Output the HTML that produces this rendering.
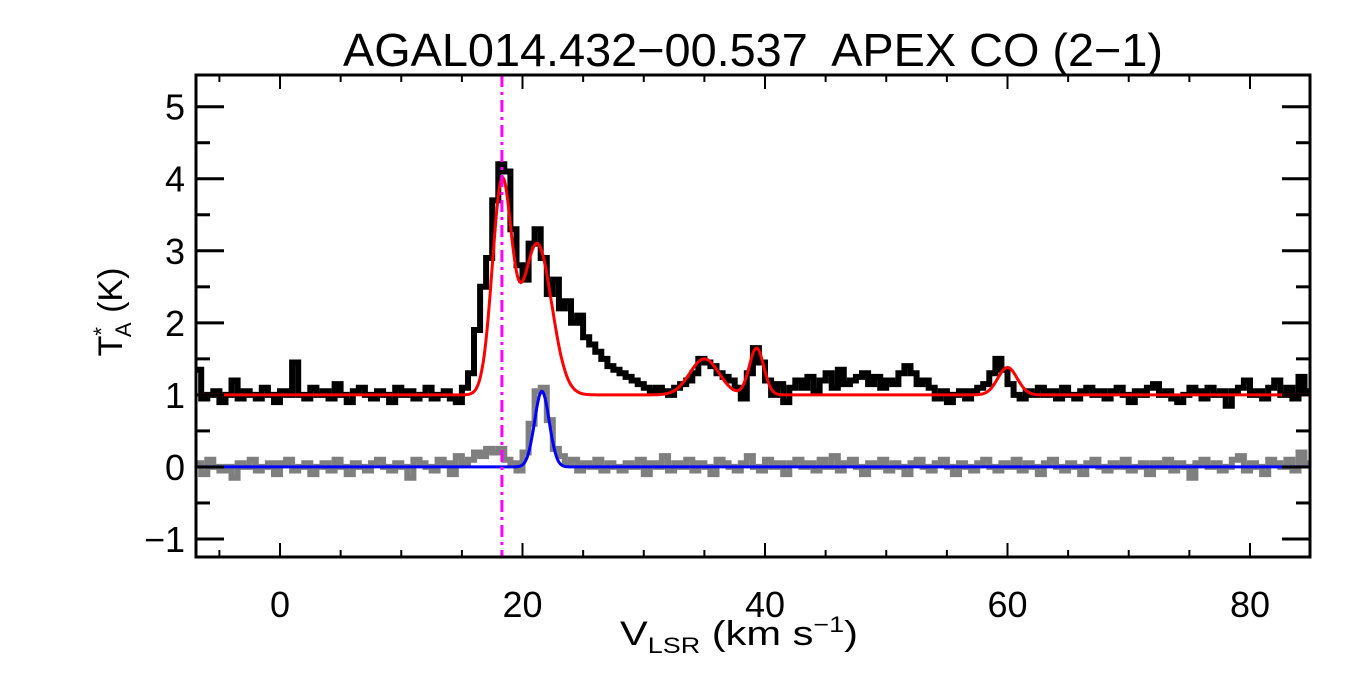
<!DOCTYPE html>
<html><head><meta charset="utf-8"><style>
html,body{margin:0;padding:0;background:#fff;}
svg{display:block;font-family:"Liberation Sans",Arial,sans-serif;}
</style></head><body>
<svg id="chart" width="1350" height="675" viewBox="0 0 1350 675" xmlns="http://www.w3.org/2000/svg">
<defs><clipPath id="plotclip"><rect x="196" y="75" width="1114" height="482"/></clipPath></defs>
<text x="343" y="66" font-size="46" textLength="820" lengthAdjust="spacingAndGlyphs" fill="#000" xml:space="preserve">AGAL014.432−00.537  APEX CO (2−1)</text>
<g id="plot" clip-path="url(#plotclip)"></g>
<g id="axes"></g>
<text x="620" y="645" font-size="34" textLength="238" lengthAdjust="spacingAndGlyphs">V<tspan font-size="22" dy="8">LSR</tspan><tspan dy="-8"> (km s</tspan><tspan font-size="22" dy="-13">−1</tspan><tspan dy="13">)</tspan></text>
<text transform="translate(122,312) rotate(-90)" font-size="34" text-anchor="middle">T<tspan font-size="22" dy="-13">*</tspan><tspan font-size="22" dx="-10" dy="22">A</tspan><tspan dy="-9"> (K)</tspan></text>
</svg>
<script>
const v0 = -7, dv = 0.5;
const taData = [
1.35,0.95,1.0,1.05,0.9,1.0,1.2,0.95,1.05,1.0,
0.95,1.1,1.0,0.9,1.05,1.0,1.45,1.0,0.95,1.1,
1.0,1.05,0.95,1.15,1.0,0.9,1.05,1.1,1.0,0.95,
1.05,1.0,0.9,1.1,1.0,1.05,0.95,1.0,1.1,0.95,
1.0,1.05,0.95,0.9,1.1,1.3,1.9,2.5,2.9,3.7,
4.2,4.1,3.3,2.8,2.6,3.1,3.3,2.9,2.4,2.6,
2.2,2.3,2.0,2.1,1.8,1.7,1.6,1.5,1.4,1.35,
1.3,1.25,1.2,1.15,1.1,1.05,1.1,1.05,1.0,1.1,
1.15,1.2,1.3,1.5,1.45,1.4,1.3,1.25,1.2,1.1,
0.95,1.3,1.65,1.45,1.2,1.0,1.15,0.9,1.1,1.2,
1.1,1.25,1.05,1.2,1.3,1.1,1.35,1.15,1.2,1.25,
1.3,1.15,1.25,1.1,1.2,1.15,1.3,1.4,1.3,1.15,
1.2,1.1,0.95,1.05,0.9,1.0,1.05,0.95,1.05,1.1,
1.15,1.3,1.5,1.35,1.15,1.0,0.95,1.05,1.0,1.1,
1.0,1.05,0.95,1.1,1.0,0.95,1.05,1.1,1.0,1.05,
0.95,1.05,1.1,1.0,0.9,1.05,1.0,1.1,1.15,1.0,
1.05,0.95,0.9,1.0,1.1,1.05,0.95,1.1,1.0,1.05,
0.85,1.05,1.1,1.2,1.0,1.05,0.95,1.1,1.2,1.0,
1.1,0.95,1.25,1.05];
const residData = [
0.05,-0.1,0.1,0.0,-0.05,0.0,-0.15,0.05,0.0,0.1,
-0.05,0.0,0.05,-0.1,0.05,0.1,-0.05,0.0,0.05,-0.1,
0.0,0.05,-0.05,0.1,0.0,-0.1,0.05,0.0,-0.05,0.05,
0.1,0.0,-0.05,0.05,0.0,-0.15,0.1,0.05,0.0,-0.05,
0.1,0.05,-0.1,0.15,0.05,0.1,0.2,0.15,0.25,0.2,
0.25,0.1,0.05,-0.05,0.2,0.6,1.05,1.1,0.65,0.25,
0.15,0.05,0.1,-0.05,0.05,0.0,0.1,-0.05,0.05,0.0,
-0.05,0.05,0.0,0.1,-0.1,0.05,0.0,0.15,-0.05,0.05,
0.0,0.1,-0.05,0.05,0.0,-0.1,0.1,0.05,0.0,-0.05,
0.05,0.15,0.0,-0.05,0.1,0.0,0.05,-0.1,0.05,0.1,
0.0,0.05,-0.05,0.1,0.0,0.15,-0.05,0.05,0.1,0.0,
-0.1,0.05,0.0,0.1,-0.05,0.05,0.0,-0.1,0.05,0.1,
0.0,-0.05,0.05,0.1,0.0,-0.1,0.05,0.0,-0.05,0.05,
0.1,0.0,-0.05,0.05,0.0,0.1,-0.05,0.05,0.0,-0.1,
0.05,0.1,0.0,-0.05,0.05,0.0,-0.1,0.05,0.1,0.0,
-0.05,0.05,0.0,0.1,-0.05,0.0,0.05,-0.1,0.05,0.0,
0.1,-0.05,0.05,0.0,-0.15,0.05,0.1,0.0,0.05,-0.05,
0.0,0.1,0.15,-0.05,0.05,0.0,-0.1,0.1,0.05,0.0,
0.1,-0.05,0.2,0.05];
const fitAmp = [2.9, 2.1, 0.5, 0.65, 0.38];
const fitCen = [18.3, 21.2, 35.0, 39.3, 60.0];
const fitSig = [0.8, 1.2, 1.2, 0.6, 0.8];
const fitBase = 1.0;
const resAmp = [1.05];
const resCen = [21.6];
const resSig = [0.6];
const vMarker = 18.3;
const xTicks = [0, 20, 40, 60, 80];
const yTicks = [-1, 0, 1, 2, 3, 4, 5];

const X0=196, X1=1310, Y0=75, Y1=557, VMIN=-6.93, VMAX=84.95, TMIN=-1.25, TMAX=5.44;
const NS='http://www.w3.org/2000/svg';
function xs(v){return X0+(v-VMIN)/(VMAX-VMIN)*(X1-X0);}
function ys(t){return Y1-(t-TMIN)/(TMAX-TMIN)*(Y1-Y0);}
function mk(tag, attrs, parent){const e=document.createElementNS(NS,tag);for(const k in attrs)e.setAttribute(k,attrs[k]);parent.appendChild(e);return e;}
const plot=document.getElementById('plot'), axes=document.getElementById('axes');

function stepPath(arr){let d='';arr.forEach((t,i)=>{const a=xs(v0+i*dv),b=xs(v0+(i+1)*dv),y=ys(t);d+=(i===0?'M':'L')+a.toFixed(1)+','+y.toFixed(1)+'L'+b.toFixed(1)+','+y.toFixed(1);});return d;}
function model(v,base,A,C,S){let s=base;for(let k=0;k<A.length;k++)s+=A[k]*Math.exp(-Math.pow(v-C[k],2)/(2*S[k]*S[k]));return s;}
function modelPath(base,A,C,S){let d='';for(let v=VMIN;v<=VMAX;v+=0.1){d+=(d?'L':'M')+xs(v).toFixed(1)+','+ys(model(v,base,A,C,S)).toFixed(1);}return d;}

const g1=mk('path',{d:stepPath(residData),fill:'none',stroke:'#7f7f7f','stroke-width':6},plot);


const g2=mk('path',{d:stepPath(taData),fill:'none',stroke:'#000','stroke-width':6},plot);


const m1=mk('path',{d:modelPath(fitBase,fitAmp,fitCen,fitSig),fill:'none',stroke:'#ff0000','stroke-width':3},plot);


const m2=mk('path',{d:modelPath(0,resAmp,resCen,resSig),fill:'none',stroke:'#0000ff','stroke-width':3},plot);


const vm=mk('line',{x1:xs(vMarker),x2:xs(vMarker),y1:Y0,y2:Y1,stroke:'#ff00ff','stroke-width':3,'stroke-dasharray':'12,5,3,5'},plot);



const fr=mk('rect',{x:X0,y:Y0,width:X1-X0,height:Y1-Y0,fill:'none',stroke:'#000','stroke-width':3},axes);


for(let v=-5;v<=VMAX;v+=5){const maj=(v%20===0),L=maj?14:7,x=xs(v);
 mk('line',{x1:x,x2:x,y1:Y1,y2:Y1-L,stroke:'#000','stroke-width':2},axes);
 mk('line',{x1:x,x2:x,y1:Y0,y2:Y0+L,stroke:'#000','stroke-width':2},axes);}
for(let t=-1;t<=5;t+=0.5){const maj=Number.isInteger(t),L=maj?28:14,y=ys(t);
 mk('line',{x1:X0,x2:X0+L,y1:y,y2:y,stroke:'#000','stroke-width':3},axes);
 mk('line',{x1:X1,x2:X1-L,y1:y,y2:y,stroke:'#000','stroke-width':3},axes);}
xTicks.forEach(v=>{const t=mk('text',{x:xs(v),y:617,'font-size':36,'text-anchor':'middle'},axes);t.textContent=String(v);
 
 });
yTicks.forEach(v=>{const t=mk('text',{x:185,y:ys(v)+13,'font-size':36,'text-anchor':'end'},axes);t.textContent=(v<0?'−':'')+Math.abs(v);
 
 });
</script>
</body></html>
